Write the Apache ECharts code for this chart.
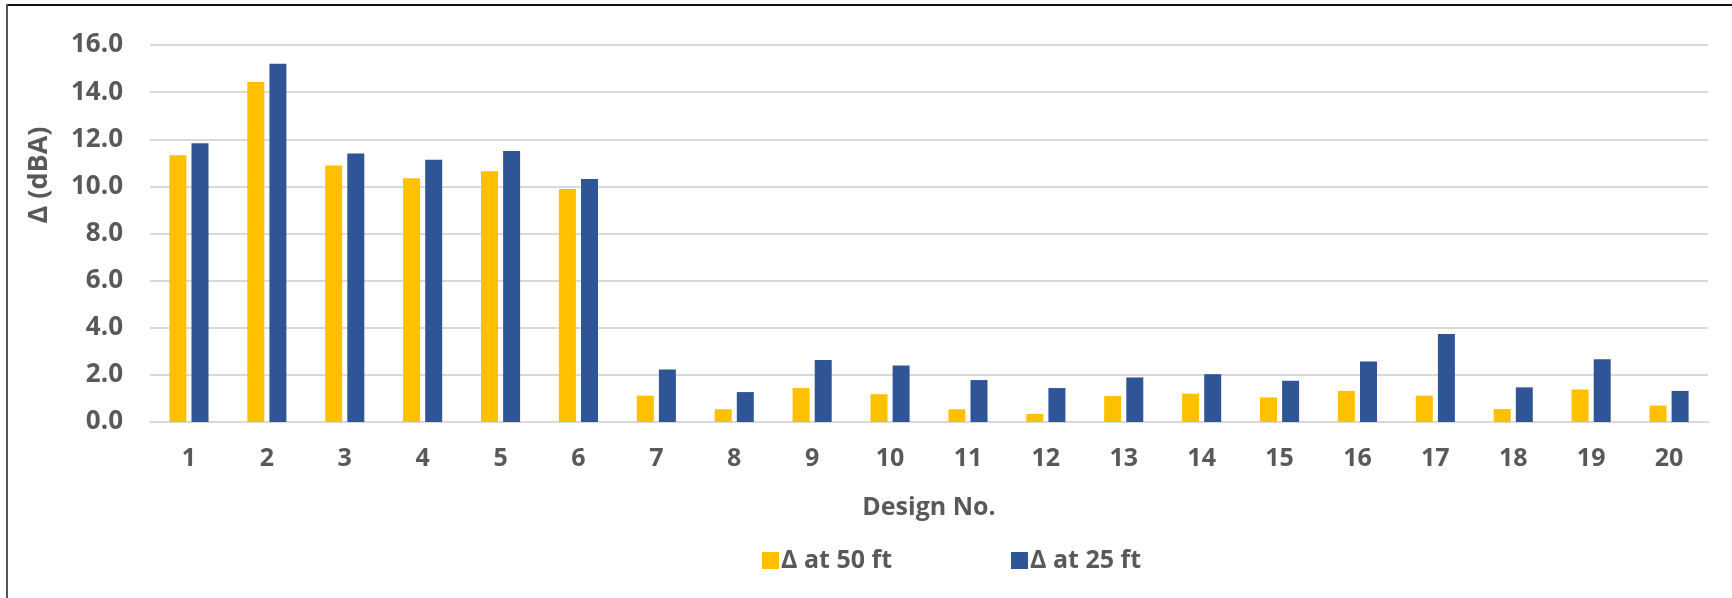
<!DOCTYPE html>
<html>
<head>
<meta charset="utf-8">
<script src="https://cdn.jsdelivr.net/npm/echarts@6/dist/echarts.min.js"></script>
<style>
  html, body { margin: 0; padding: 0; background: #ffffff; }
  #chart { width: 1732px; height: 598px; }
</style>
</head>
<body>
<div id="chart"></div>
<script>
// Design numbers along the x axis
const designs = ['1','2','3','4','5','6','7','8','9','10','11','12','13','14','15','16','17','18','19','20'];

// Noise level difference (dBA) per design
const delta50ft = [11.32, 14.43, 10.89, 10.34, 10.64, 9.89, 1.12, 0.54, 1.44, 1.18,
                   0.54, 0.34, 1.10, 1.20, 1.04, 1.32, 1.12, 0.55, 1.38, 0.70];
const delta25ft = [11.83, 15.20, 11.40, 11.13, 11.50, 10.31, 2.23, 1.27, 2.63, 2.40,
                   1.78, 1.44, 1.89, 2.03, 1.75, 2.57, 3.74, 1.47, 2.66, 1.32];

const seriesNames = ['\u0394 at 50 ft', '\u0394 at 25 ft'];
const yTitle = '\u0394 (dBA)';
const yTicks = { min: 0, max: 16, step: 2 };

const FONT = '"Open Sans", Lato, sans-serif';
const TEXT = '#595959';
const GRID = '#D9D9D9';

const chart = echarts.init(document.getElementById('chart'), null, { renderer: 'canvas' });

chart.setOption({
  backgroundColor: '#ffffff',
  animation: false,
  textStyle: { fontFamily: FONT },
  graphic: [
    // frame edges
    { type: 'line', shape: { x1: 6, y1: 5, x2: 1732, y2: 5 }, style: { stroke: '#111111', lineWidth: 2 } },
    { type: 'line', shape: { x1: 7, y1: 4, x2: 7, y2: 598 }, style: { stroke: '#555555', lineWidth: 2 } },
    // value axis title, reading bottom to top
    {
      type: 'text', x: 39, y: 175, rotation: Math.PI / 2,
      style: {
        text: yTitle, fontFamily: FONT, fontSize: 27, fontWeight: 'bold',
        fill: TEXT, align: 'center', verticalAlign: 'middle'
      }
    }
  ],
  grid: { left: 150, right: 24, top: 45, bottom: 176, containLabel: false },
  legend: {
    left: 757, top: 543,
    itemWidth: 17, itemHeight: 17, itemGap: 119,
    icon: 'rect',
    textStyle: { fontFamily: FONT, fontSize: 25, fontWeight: 'bold', color: TEXT, padding: [0, 0, 0, -3] },
    data: seriesNames
  },
  xAxis: {
    type: 'category',
    data: designs,
    name: 'Design No.',
    nameLocation: 'middle',
    nameGap: 73,
    nameTextStyle: { fontFamily: FONT, fontSize: 25, fontWeight: 'bold', color: TEXT },
    axisLine: { show: true, lineStyle: { color: GRID, width: 2 } },
    axisTick: { show: false },
    axisLabel: { margin: 24, fontFamily: FONT, fontSize: 25, fontWeight: 'bold', color: TEXT }
  },
  yAxis: {
    type: 'value',
    min: yTicks.min, max: yTicks.max, interval: yTicks.step,
    axisLine: { show: false },
    axisTick: { show: false },
    axisLabel: {
      margin: 27, fontFamily: FONT, fontSize: 26, fontWeight: 'bold', color: TEXT,
      formatter: v => v.toFixed(1)
    },
    splitLine: { lineStyle: { color: GRID, width: 2 } }
  },
  series: [
    {
      name: seriesNames[0], type: 'bar', data: delta50ft,
      barWidth: 17, barGap: '30%',
      itemStyle: { color: '#FFC000' }
    },
    {
      name: seriesNames[1], type: 'bar', data: delta25ft,
      barWidth: 17, barGap: '30%',
      itemStyle: { color: '#2F5597' }
    }
  ]
});
</script>
</body>
</html>
